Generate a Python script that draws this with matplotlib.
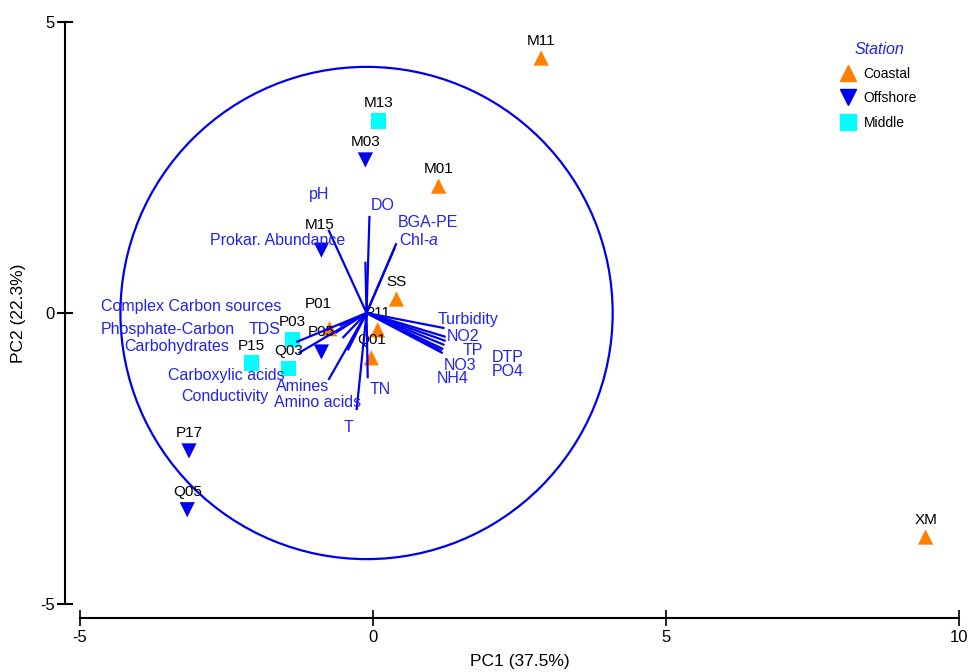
"""PCA biplot: stations (PC scores) and environmental variables (loadings)."""

import matplotlib

matplotlib.use("Agg")
import matplotlib.pyplot as plt
from matplotlib.lines import Line2D
from matplotlib.patches import Ellipse

# --- colours ---
ORANGE = "#FF7F00"
BLUE = "#0000F0"
CYAN = "#00FFFF"
VEC = "#0000F0"
VEC_TXT = "#2323EE"
INK = "#000000"

# --- station scores ---
coastal_names = ["M11", "M01", "SS", "P11", "Q01", "P01", "XM"]
coastal_pc1 = [2.87, 1.12, 0.40, 0.08, -0.03, -0.74, 9.43]
coastal_pc2 = [4.38, 2.18, 0.24, -0.29, -0.77, -0.27, -3.85]

offshore_names = ["M03", "M15", "P05", "P17", "Q05"]
offshore_pc1 = [-0.13, -0.88, -0.88, -3.14, -3.17]
offshore_pc2 = [2.63, 1.08, -0.67, -2.37, -3.38]

middle_names = ["M13", "P03", "Q03", "P15"]
middle_pc1 = [0.09, -1.37, -1.44, -2.07]
middle_pc2 = [3.30, -0.46, -0.96, -0.86]

# --- variable loadings (vector tips) ---
var_names = ["pH", "Prokar. Abundance", "DO", "BGA-PE", "Chl-$a$",
             "Turbidity", "NO2", "TP", "NO3", "DTP", "PO4", "NH4",
             "TN", "T", "Amines", "Amino acids",
             "TDS", "Carboxylic acids", "Complex Carbon sources",
             "Phosphate-Carbon", "Carbohydrates", "Conductivity"]
var_pc1 = [-0.76, -0.13, -0.06, 0.40, 0.37,
           1.22, 1.24, 1.24, 1.22, 1.20, 1.17, 1.19,
           -0.09, -0.28, -0.76, -0.43,
           -1.31, -1.27, -0.57, -0.64, -0.52, -0.37]
var_pc2 = [1.43, 0.88, 1.67, 1.20, 1.12,
           -0.26, -0.41, -0.48, -0.55, -0.62, -0.65, -0.69,
           -1.12, -1.67, -1.15, -0.64,
           -0.50, -0.69, -0.22, -0.34, -0.43, -0.46]

# label placement (layout only, data units)
var_label_xy = {
    "pH": (-0.92, 2.03), "Prokar. Abundance": (-1.63, 1.25), "DO": (0.16, 1.85),
    "BGA-PE": (0.93, 1.56), "Chl-$a$": (0.78, 1.25), "Turbidity": (1.63, -0.12),
    "NO2": (1.54, -0.40), "TP": (1.71, -0.64), "NO3": (1.49, -0.90),
    "DTP": (2.30, -0.76), "PO4": (2.30, -1.00), "NH4": (1.36, -1.13),
    "TN": (0.13, -1.31), "T": (-0.42, -1.96), "Amines": (-1.20, -1.27),
    "Amino acids": (-0.95, -1.53), "TDS": (-1.85, -0.29),
    "Carboxylic acids": (-2.50, -1.07), "Complex Carbon sources": (-3.11, 0.12),
    "Phosphate-Carbon": (-3.50, -0.29), "Carbohydrates": (-3.35, -0.58),
    "Conductivity": (-2.53, -1.44),
}
# station label offsets (data units) where the default one does not fit
label_off = {"M15": (-0.03, 0.44), "P01": (-0.2, 0.43), "P05": (0.0, 0.34),
             "P11": (0.0, 0.29), "XM": (0.0, 0.3)}

ORIGIN = (-0.11, 0.0)
RADIUS = 4.2

plt.rcParams["font.family"] = ["Liberation Sans", "DejaVu Sans"]
plt.rcParams["mathtext.fontset"] = "custom"
plt.rcParams["mathtext.rm"] = "Liberation Sans"
plt.rcParams["mathtext.it"] = "Liberation Sans:italic"
plt.rcParams["axes.unicode_minus"] = False

fig = plt.figure(figsize=(9.68, 6.72), dpi=100)
ax = fig.add_axes([80 / 968, 1 - 604 / 672, 879 / 968, 582 / 672])
ax.set_xlim(-5, 10)
ax.set_ylim(-5, 5)

# correlation circle
ax.add_patch(Ellipse(ORIGIN, 2 * RADIUS, 2 * RADIUS * 58.6 / 58.2, fill=False,
                     edgecolor=VEC, linewidth=1.6, zorder=1))

# vectors
for name, x, y in zip(var_names, var_pc1, var_pc2):
    ax.plot([ORIGIN[0], x], [ORIGIN[1], y], color=VEC, linewidth=1.6,
            solid_capstyle="butt", zorder=3)
    lx, ly = var_label_xy[name]
    ax.text(lx, ly, name, color=VEC_TXT, fontsize=11.5, ha="center",
            va="center", zorder=4)

# stations
groups = [
    (coastal_names, coastal_pc1, coastal_pc2, "^", ORANGE, "Coastal"),
    (offshore_names, offshore_pc1, offshore_pc2, "v", BLUE, "Offshore"),
    (middle_names, middle_pc1, middle_pc2, "s", CYAN, "Middle"),
]
for names, xs, ys, mk, col, lab in groups:
    ax.scatter(xs, ys, marker=mk, s=120, color=col, edgecolors="none",
               zorder=2, clip_on=False)
    for n, x, y in zip(names, xs, ys):
        dx, dy = label_off.get(n, (0.0, 0.3))
        ax.text(x + dx, y + dy, n, color=INK, fontsize=11, ha="center",
                va="center", zorder=2)

# axes styling
for s in ("top", "right"):
    ax.spines[s].set_visible(False)
ax.spines["left"].set_position(("outward", 11))
ax.spines["bottom"].set_position(("outward", 10))
ax.spines["left"].set_bounds(-5, 5)
ax.spines["bottom"].set_bounds(-5, 10)
for s in ("left", "bottom"):
    ax.spines[s].set_linewidth(1.5)
ax.set_xticks([-5, 0, 5, 10])
ax.set_yticks([-5, 0, 5])
ax.tick_params(axis="x", direction="inout", length=12, width=1.2,
               labelsize=12, pad=3)
ax.tick_params(axis="y", direction="inout", length=12, width=1.5,
               labelsize=12, pad=1)
ax.set_xlabel("PC1 (37.5%)", fontsize=12.5, labelpad=6)
ax.set_ylabel("PC2 (22.3%)", fontsize=12.5, labelpad=10)

# legend
handles = [Line2D([], [], marker=mk, color=col, linestyle="none", markersize=11)
           for _, _, _, mk, col, _ in groups]
leg = fig.legend(handles, [g[5] for g in groups], loc="upper left",
                 bbox_to_anchor=(829 / 968, 1 - 29 / 672), frameon=False,
                 fontsize=10, title="Station", handlelength=1.0,
                 handletextpad=0.6, labelspacing=0.75)
leg.get_title().set_color(VEC_TXT)
leg.get_title().set_fontstyle("italic")
leg.get_title().set_fontsize(11.5)

fig.savefig("out.png", dpi=100)
